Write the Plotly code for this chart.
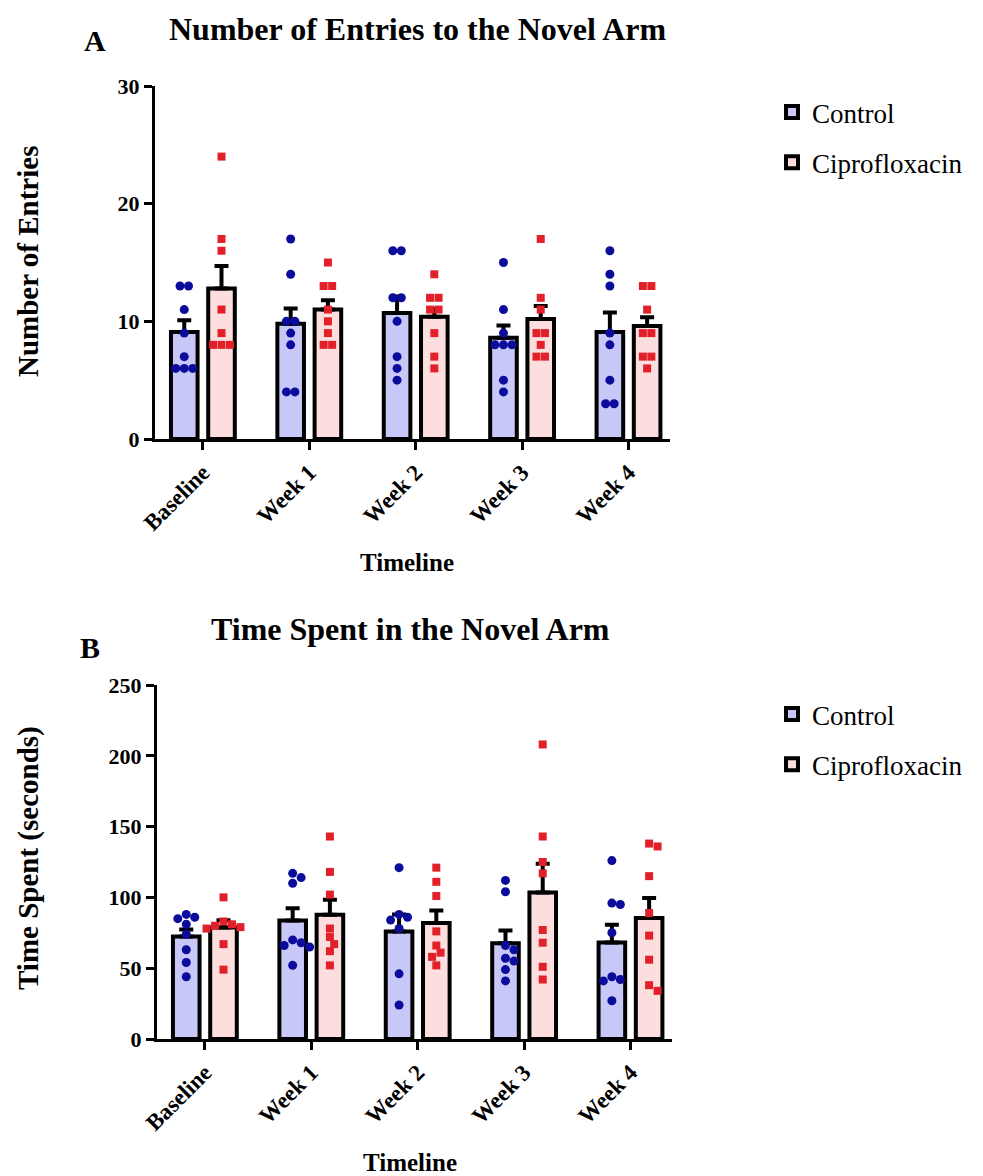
import plotly.graph_objects as go

# ---------------- data ----------------
categories = ["Baseline", "Week 1", "Week 2", "Week 3", "Week 4"]

# Panel A: number of entries to the novel arm
entries_ctrl_mean = [9.1, 9.8, 10.7, 8.6, 9.1]
entries_ctrl_sem = [1.0, 1.3, 1.4, 1.05, 1.65]
entries_cip_mean = [12.8, 11.0, 10.4, 10.2, 9.6]
entries_cip_sem = [1.9, 0.8, 0.65, 1.1, 0.75]

entries_ctrl_pts = [
    [13, 13, 11, 9, 7, 6, 6, 6],
    [17, 14, 10, 10, 9, 8, 4, 4],
    [16, 16, 12, 12, 10, 7, 6, 5],
    [15, 11, 9, 8, 8, 8, 5, 4],
    [16, 14, 13, 9, 8, 5, 3, 3],
]
entries_cip_pts = [
    [24, 17, 16, 11, 9, 8, 8, 8],
    [15, 13, 13, 11, 10, 9, 8, 8],
    [14, 12, 12, 11, 11, 9, 7, 6],
    [17, 12, 11, 9, 9, 8, 7, 7],
    [13, 13, 11, 9, 9, 7, 7, 6],
]

# Panel B: time spent in the novel arm (seconds)
time_ctrl_mean = [72.4, 83.7, 76.0, 67.7, 68.2]
time_ctrl_sem = [5.0, 8.7, 12.0, 8.9, 12.5]
time_cip_mean = [78.8, 87.7, 81.9, 103.5, 85.4]
time_cip_sem = [5.0, 10.6, 8.9, 20.2, 14.1]

time_ctrl_pts = [
    [88, 86, 85, 81, 74, 63, 54, 44],
    [117, 114, 110, 70, 68, 66, 65, 52],
    [121, 88, 86, 84, 78, 46, 24],
    [112, 104, 66, 63, 57, 55, 49, 41],
    [126, 96, 95, 75, 44, 42, 41, 27],
]
time_cip_pts = [
    [100, 83, 81, 80, 79, 78, 67, 49],
    [143, 118, 102, 78, 72, 67, 62, 52],
    [121, 111, 101, 76, 66, 61, 58, 52],
    [208, 143, 125, 117, 77, 68, 51, 42],
    [138, 136, 115, 89, 73, 56, 38, 34],
]

# ---------------- style ----------------
CTRL_FILL = "#C8C8F8"
CIP_FILL = "#FDDEDE"
CTRL_DOT = "#0C0C9C"
CIP_DOT = "#E2202A"
SERIF = "Liberation Serif"
W, H = 983, 1176

BAR_W = 0.25
CTRL_OFF = -0.30
CIP_OFF = 0.05
XRANGE = [-0.45, 4.39]

domA_x = [155 / W, 670 / W]
domA_y = [1 - 439 / H, 1 - 86 / H]
domB_x = [157 / W, 672 / W]
domB_y = [1 - 1039 / H, 1 - 685 / H]


def swarm(values, center, px_x, px_y, d=8.5):
    """Simple beeswarm: returns x positions (data units) for the given values."""
    placed = []
    xs = [None] * len(values)
    groups = {}
    for i, v in enumerate(values):
        groups.setdefault(v, []).append(i)
    for v in sorted(groups, reverse=True):
        idx = groups[v]
        k = len(idx)
        base = [(j - (k - 1) / 2) * d for j in range(k)]
        shifts = [0]
        for s in range(1, 12):
            shifts += [s * d / 2, -s * d / 2]
        for c in shifts:
            cand = [(b + c, v * px_y) for b in base]
            ok = all(((cx - px) ** 2 + (cy - py) ** 2) ** 0.5 >= d * 0.95
                     for cx, cy in cand for px, py in placed)
            if ok:
                break
        for j, (cx, cy) in zip(idx, cand):
            placed.append((cx, cy))
            xs[j] = center + cx / px_x
    return xs


def add_panel(fig, ctrl_mean, ctrl_sem, cip_mean, cip_sem, ctrl_pts, cip_pts,
              xa, ya, legend, px_x, px_y):
    xcat = list(range(len(categories)))
    for name, mean, sem, fill, off in [
        ("Control", ctrl_mean, ctrl_sem, CTRL_FILL, CTRL_OFF),
        ("Ciprofloxacin", cip_mean, cip_sem, CIP_FILL, CIP_OFF),
    ]:
        fig.add_trace(go.Bar(
            x=xcat, y=mean, width=BAR_W, offset=off, name=name,
            marker=dict(color=fill, line=dict(color="black", width=4)),
            error_y=dict(type="data", array=sem, arrayminus=[0] * len(sem),
                         symmetric=False, color="black", thickness=4, width=7),
            xaxis=xa, yaxis=ya, legend=legend, legendgroup=name,
            showlegend=True,
        ))
    for pts, off, color, sym, size in [
        (ctrl_pts, CTRL_OFF, CTRL_DOT, "circle", 9),
        (cip_pts, CIP_OFF, CIP_DOT, "square", 8),
    ]:
        xs, ys = [], []
        for i, vals in enumerate(pts):
            center = i + off + BAR_W / 2
            xs += swarm(vals, center, px_x, px_y)
            ys += vals
        fig.add_trace(go.Scatter(
            x=xs, y=ys, mode="markers",
            marker=dict(color=color, symbol=sym, size=size, line=dict(width=0)),
            xaxis=xa, yaxis=ya, showlegend=False, hoverinfo="y",
        ))


fig = go.Figure()
add_panel(fig, entries_ctrl_mean, entries_ctrl_sem, entries_cip_mean, entries_cip_sem,
          entries_ctrl_pts, entries_cip_pts, "x", "y", "legend", 106.5, 11.75)
add_panel(fig, time_ctrl_mean, time_ctrl_sem, time_cip_mean, time_cip_sem,
          time_ctrl_pts, time_cip_pts, "x2", "y2", "legend2", 106.7, 1.417)

axis_common = dict(
    showline=True, linewidth=3, linecolor="black", ticks="outside",
    ticklen=8, tickwidth=3, tickcolor="black", showgrid=False, zeroline=False,
    automargin=False,
    tickfont=dict(family=SERIF, size=22, color="black", weight="bold"),
)
xaxis_common = dict(axis_common, tickmode="array",
                    tickvals=list(range(len(categories))), ticktext=categories,
                    tickangle=-45, range=XRANGE,
                    tickfont=dict(family=SERIF, size=23, color="black", weight="bold"))

title_font = dict(family=SERIF, size=25, color="black", weight="bold")
ytitle_font = dict(family=SERIF, size=29, color="black", weight="bold")


def label(text, px, py, font, angle=0):
    return dict(text=text, x=px / W, y=1 - py / H, xref="paper", yref="paper",
                xanchor="center", yanchor="middle", showarrow=False,
                textangle=angle, font=font)


big = dict(family=SERIF, size=32, color="black", weight="bold")
letter = dict(family=SERIF, size=30, color="black", weight="bold")

fig.update_layout(
    width=W, height=H, margin=dict(l=0, r=0, t=0, b=0, autoexpand=False),
    paper_bgcolor="white", plot_bgcolor="white",
    xaxis=dict(xaxis_common, domain=domA_x, anchor="y"),
    yaxis=dict(axis_common, domain=domA_y, anchor="x", range=[0, 30],
               tickvals=[0, 10, 20, 30]),
    xaxis2=dict(xaxis_common, domain=domB_x, anchor="y2"),
    yaxis2=dict(axis_common, domain=domB_y, anchor="x2", range=[0, 250],
                tickvals=[0, 50, 100, 150, 200, 250]),
    legend=dict(x=772 / W, y=1 - 88 / H, xanchor="left", yanchor="top",
                font=dict(family=SERIF, size=27, color="black"),
                tracegroupgap=12, bgcolor="rgba(0,0,0,0)"),
    legend2=dict(x=772 / W, y=1 - 690 / H, xanchor="left", yanchor="top",
                 font=dict(family=SERIF, size=27, color="black"),
                 tracegroupgap=12, bgcolor="rgba(0,0,0,0)"),
    barmode="overlay",
    annotations=[
        label("A", 95, 41, letter),
        label("Number of Entries to the Novel Arm", 417, 29, big),
        label("B", 90, 648, letter),
        label("Time Spent in the Novel Arm", 410, 629, big),
        label("Number of Entries", 28, 262, ytitle_font, -90),
        label("Time Spent (seconds)", 28, 858, ytitle_font, -90),
        label("Timeline", 407, 563, title_font),
        label("Timeline", 410, 1162, title_font),
    ],
)

fig.write_html("out.html")
